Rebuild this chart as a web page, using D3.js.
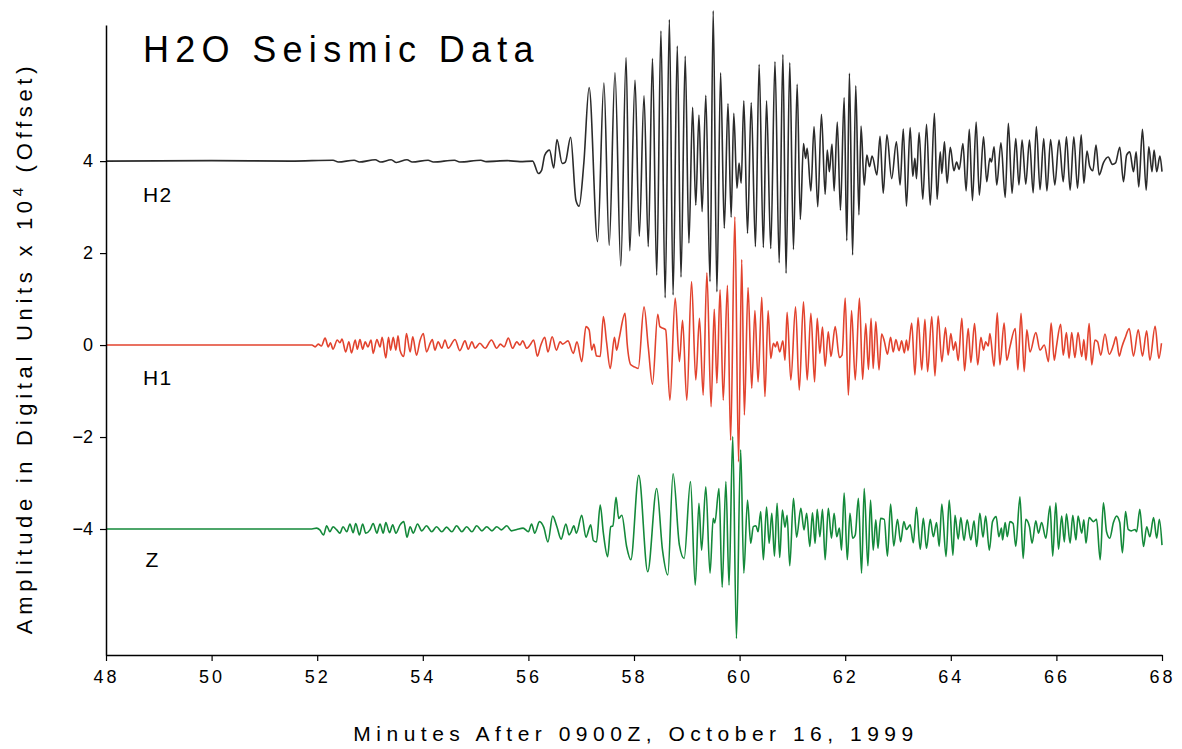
<!DOCTYPE html>
<html><head><meta charset="utf-8">
<script src="https://cdn.jsdelivr.net/npm/d3@7"></script>
<style>
html,body{margin:0;padding:0;background:#fff;}
text{font-family:"Liberation Sans",Arial,Helvetica,sans-serif;fill:#000;}
</style></head>
<body><svg id="chart" width="1182" height="749"></svg>
<script>
// ---- data (minutes, amplitude x10^4 relative to trace offset) ----
const traceNames = ["H2", "H1", "Z"];
const traceOffsets = [4, 0, -4];
const xTickValues = [48, 50, 52, 54, 56, 58, 60, 62, 64, 66, 68];
const yTickValues = [-4, -2, 0, 2, 4];
const titleText = "H2O Seismic Data";
const xLabelText = "Minutes After 0900Z, October 16, 1999";

const h2Trace = [
[48,0],[50,0.01],[51.5,0],[52.3,0.02],[52.4,-0.02],[52.7,0.02],[52.8,-0.02],[53.1,0.03],[53.2,-0.02],[53.4,0.03],[53.5,-0.03],
[53.7,0.03],[53.8,-0.02],[54.1,0.02],[54.2,-0.02],[54.6,0.02],[54.7,-0.02],[55.1,0.02],[55.2,-0.01],[55.6,0.01],[55.84,-0.01],[56.08,0],
[56.19,-0.27],[56.25,-0.20],[56.31,0.13],[56.40,0.24],[56.48,-0.15],[56.54,0.47],[56.64,-0.05],[56.70,-0.02],[56.80,0.52],[56.90,-0.85],
[56.96,-0.98],[57.05,-0.04],[57.15,1.60],[57.31,-1.75],[57.43,1.70],[57.53,-1.83],[57.64,1.92],[57.75,-2.28],[57.85,2.25],[57.92,-1.95],
[58.02,1.76],[58.10,-1.63],[58.19,1.42],[58.27,-1.86],[58.35,2.23],[58.43,-2.48],[58.51,2.83],[58.59,-2.97],[58.67,3.08],[58.74,-2.91],
[58.82,2.50],[58.89,-2.52],[58.97,2.28],[59.04,-1.78],[59.11,1.17],[59.17,-0.96],[59.23,1.00],[59.29,-1.10],[59.36,1.43],[59.44,-2.62],
[59.50,3.27],[59.57,-2.84],[59.64,1.92],[59.71,-1.46],[59.78,1.25],[59.84,-1.22],[59.89,1.04],[59.95,-0.59],[59.99,-0.04],[60.03,-0.48],
[60.08,1.31],[60.15,-1.57],[60.22,1.27],[60.30,-1.86],[60.37,2.10],[60.45,-1.88],[60.51,1.31],[60.59,-1.90],[60.67,2.16],[60.75,-2.21],
[60.82,2.32],[60.88,-2.44],[60.95,2.14],[61.02,-1.92],[61.09,1.67],[61.15,-1.27],[61.21,0.38],[61.25,0.06],[61.28,0.28],[61.35,-0.65],
[61.41,0.75],[61.48,-0.99],[61.55,1.02],[61.62,-0.72],[61.66,0.24],[61.70,-0.23],[61.75,0.37],[61.79,-0.65],[61.85,0.85],[61.91,-1.07],
[61.98,1.38],[62.03,-1.73],[62.08,1.91],[62.14,-2.04],[62.20,1.64],[62.26,-1.17],[62.30,0.76],[62.36,-0.52],[62.41,0.13],[62.46,-0.12],
[62.51,0.11],[62.60,-0.30],[62.66,0.54],[62.72,-0.70],[62.79,0.57],[62.88,-0.38],[62.97,0.42],[63.04,-0.52],[63.10,0.70],[63.16,-0.98],
[63.23,0.73],[63.28,-0.33],[63.32,0.06],[63.35,-0.38],[63.40,0.62],[63.47,-0.83],[63.54,0.80],[63.61,-0.96],[63.69,1.04],[63.74,-0.83],
[63.80,0.20],[63.83,-0.27],[63.88,0.42],[63.93,-0.48],[63.99,0.30],[64.06,-0.21],[64.11,-0.02],[64.16,-0.18],[64.23,0.38],[64.29,-0.65],
[64.35,0.69],[64.41,-0.86],[64.48,0.85],[64.54,-0.74],[64.62,0.53],[64.68,-0.45],[64.74,0.06],[64.77,-0.02],[64.82,0.31],[64.87,-0.52],
[64.95,0.40],[65.03,-0.79],[65.09,0.82],[65.16,-0.70],[65.23,0.49],[65.29,-0.52],[65.35,0.46],[65.42,-0.50],[65.49,0.46],[65.56,-0.69],
[65.62,0.75],[65.69,-0.62],[65.76,0.49],[65.82,-0.65],[65.89,0.47],[65.97,-0.52],[66.05,0.46],[66.13,-0.45],[66.19,0.53],[66.26,-0.63],
[66.33,0.53],[66.40,-0.59],[66.47,0.57],[66.52,-0.48],[66.58,0.22],[66.63,-0.11],[66.69,-0.21],[66.75,0.35],[66.81,-0.30],[66.89,-0.04],
[66.98,0.09],[67.06,-0.07],[67.12,-0.04],[67.20,0.30],[67.27,-0.45],[67.33,0.13],[67.39,0.20],[67.46,-0.23],[67.51,0.20],[67.56,-0.56],
[67.63,0.69],[67.70,-0.63],[67.75,0.31],[67.81,-0.23],[67.85,0.24],[67.90,-0.23],[67.96,0.11],[68.00,-0.23]
];

const h1Trace = [
[48,0],[51.9,0],[51.96,-0.04],[52.02,0.02],[52.08,-0.02],[52.15,0.15],[52.21,-0.04],[52.25,0.05],[52.30,-0.09],[52.38,0.11],[52.43,0.05],
[52.47,0.13],[52.54,-0.15],[52.60,0.07],[52.65,-0.17],[52.72,0.11],[52.76,-0.09],[52.81,0.12],[52.86,-0.09],[52.91,0.07],[52.96,-0.04],
[53.02,0.11],[53.06,-0.18],[53.13,0.12],[53.19,-0.04],[53.23,0.17],[53.30,-0.28],[53.35,0.17],[53.39,-0.11],[53.44,0.17],[53.49,-0.11],
[53.53,0.20],[53.57,-0.12],[53.64,-0.25],[53.69,0.25],[53.76,-0.15],[53.81,0.18],[53.88,-0.22],[53.95,0.11],[54.01,0.25],[54.07,-0.15],
[54.14,0.04],[54.18,0.12],[54.23,-0.11],[54.29,0.07],[54.36,-0.07],[54.42,0.11],[54.48,-0.07],[54.61,0.12],[54.70,-0.12],[54.80,0.09],
[54.86,-0.09],[54.93,0.07],[54.99,-0.07],[55.08,0.04],[55.18,-0.07],[55.30,0.11],[55.40,-0.07],[55.47,0.02],[55.54,-0.04],[55.62,0.15],
[55.70,-0.07],[55.78,0.07],[55.84,0],[55.89,0.09],[55.97,-0.07],[56.03,0],[56.10,0.11],[56.17,-0.24],[56.23,-0.02],[56.31,0.17],
[56.37,-0.15],[56.45,0.18],[56.53,-0.11],[56.60,0.07],[56.65,0.02],[56.75,0.09],[56.85,-0.18],[56.92,0.07],[57.01,-0.36],[57.09,0.40],
[57.15,0.33],[57.20,-0.11],[57.24,0.02],[57.29,-0.24],[57.36,-0.25],[57.42,0.62],[57.48,0.07],[57.55,-0.51],[57.63,0.17],[57.67,-0.11],
[57.72,0.15],[57.83,0.69],[57.87,0.04],[57.94,-0.43],[58.02,-0.48],[58.08,-0.51],[58.19,0.83],[58.27,-0.04],[58.35,-0.85],[58.45,0.67],
[58.49,0.40],[58.56,0.36],[58.60,0.33],[58.68,-1.20],[58.78,1.02],[58.86,-0.36],[58.92,0.54],[59.00,-1.20],[59.09,1.38],[59.17,-0.76],
[59.24,0.58],[59.31,-1.09],[59.38,1.57],[59.46,-1.34],[59.52,0.78],[59.57,-0.83],[59.63,1.20],[59.69,-1.20],[59.77,1.30],[59.83,-2.07],
[59.91,2.79],[59.98,-2.54],[60.04,1.86],[60.09,-1.52],[60.16,1.25],[60.23,-0.94],[60.29,0.75],[60.35,-0.80],[60.42,1.04],[60.48,-1.12],
[60.54,0.75],[60.59,-0.29],[60.64,0.04],[60.68,-0.04],[60.71,0.07],[60.76,-0.15],[60.82,0.09],[60.86,-0.33],[60.90,0.71],[60.97,-0.76],
[61.06,0.83],[61.13,-0.98],[61.21,0.94],[61.28,-0.76],[61.35,0.69],[61.42,-0.80],[61.47,0.58],[61.52,-0.18],[61.57,0.39],[61.62,-0.46],
[61.68,0.29],[61.73,-0.25],[61.81,0.40],[61.89,-0.27],[61.94,-0.22],[62.00,1.02],[62.06,-1.09],[62.12,0.75],[62.19,-0.76],[62.27,1.02],
[62.33,-0.75],[62.39,0.47],[62.44,-0.53],[62.49,0.58],[62.53,-0.51],[62.58,0.51],[62.64,-0.54],[62.69,0.24],[62.74,0.09],[62.80,-0.20],
[62.86,0.17],[62.91,-0.15],[62.96,0.12],[63.02,-0.12],[63.07,0.09],[63.12,-0.17],[63.16,0.11],[63.19,-0.12],[63.26,0.48],[63.32,-0.65],
[63.38,0.60],[63.45,-0.54],[63.51,0.56],[63.56,-0.58],[63.64,0.62],[63.70,-0.67],[63.76,0.63],[63.83,-0.36],[63.90,0.38],[63.95,-0.22],
[64.00,0.25],[64.05,-0.11],[64.09,0.07],[64.14,-0.34],[64.21,0.58],[64.26,-0.56],[64.33,0.36],[64.38,-0.38],[64.45,0.47],[64.51,-0.43],
[64.57,0.17],[64.62,-0.11],[64.66,0.07],[64.71,-0.02],[64.74,0.25],[64.82,-0.46],[64.88,0.70],[64.93,-0.43],[65.01,0.48],[65.06,-0.33],
[65.12,-0.04],[65.22,0.36],[65.27,-0.54],[65.33,0.69],[65.39,-0.58],[65.44,0.33],[65.50,-0.15],[65.61,0.27],[65.69,-0.11],[65.77,0],
[65.85,-0.36],[65.90,0.48],[65.96,-0.33],[66.00,-0.04],[66.08,0.45],[66.13,-0.22],[66.19,0.27],[66.24,-0.29],[66.29,0.27],[66.35,-0.27],
[66.41,0.27],[66.48,-0.25],[66.52,0.12],[66.56,-0.33],[66.62,0.47],[66.67,-0.43],[66.73,0.11],[66.78,0.07],[66.84,-0.22],[66.92,0.24],
[67.00,-0.20],[67.08,0],[67.13,0.18],[67.19,-0.24],[67.24,-0.04],[67.30,0.15],[67.38,0.36],[67.46,-0.24],[67.55,0.33],[67.63,-0.24],
[67.71,0.31],[67.77,-0.33],[67.87,0.41],[67.94,-0.29],[67.99,0.04]
];

const zTrace = [
[48,0],[51.9,0],[51.99,0.02],[52.05,-0.02],[52.12,-0.13],[52.18,0.07],[52.24,-0.06],[52.30,0.05],[52.37,-0.02],[52.43,-0.09],[52.49,0.05],
[52.56,-0.06],[52.62,0.11],[52.68,-0.08],[52.73,0.12],[52.80,-0.13],[52.86,0.11],[52.92,-0.09],[53.00,-0.02],[53.06,0.12],[53.13,-0.09],
[53.19,0.11],[53.25,-0.09],[53.30,0.14],[53.37,-0.08],[53.43,0.09],[53.49,-0.09],[53.57,0.09],[53.64,0.16],[53.70,-0.18],[53.76,0.05],
[53.82,-0.09],[53.90,0.11],[53.98,-0.04],[54.07,0.07],[54.17,-0.06],[54.26,0.05],[54.36,-0.06],[54.45,0.04],[54.55,-0.06],[54.64,0.07],
[54.74,-0.06],[54.83,0.05],[54.93,-0.06],[55.02,0.07],[55.12,-0.04],[55.21,0.05],[55.31,-0.04],[55.40,0.05],[55.49,-0.02],[55.59,0.07],
[55.68,-0.04],[55.78,-0.01],[55.90,0.02],[56.00,-0.06],[56.06,0.11],[56.12,-0.09],[56.21,0.16],[56.29,0.04],[56.37,-0.28],[56.46,0.28],
[56.54,0.05],[56.62,-0.22],[56.71,0.11],[56.77,-0.13],[56.81,-0.06],[56.86,0.07],[56.91,-0.09],[57.01,0.30],[57.09,-0.18],[57.18,0.09],
[57.23,-0.25],[57.29,-0.28],[57.36,0.52],[57.42,-0.09],[57.50,-0.60],[57.56,0.05],[57.60,0.07],[57.66,0.69],[57.71,0.23],[57.77,0.30],
[57.86,-0.38],[57.94,-0.67],[58.09,1.17],[58.26,-0.93],[58.43,0.88],[58.54,-0.46],[58.64,-1.00],[58.74,1.20],[58.86,-0.35],[58.95,-0.64],
[59.07,1.03],[59.16,-1.22],[59.23,0.56],[59.28,-0.46],[59.36,0.92],[59.44,-0.96],[59.50,0.23],[59.53,0.13],[59.61,0.88],[59.67,-1.27],
[59.74,1.03],[59.80,-1.22],[59.87,2.01],[59.94,-2.38],[60.02,1.72],[60.08,-0.96],[60.15,0.63],[60.21,-0.31],[60.26,0.05],[60.31,0.07],
[60.35,-0.06],[60.40,0.38],[60.45,-0.67],[60.51,0.48],[60.56,-0.31],[60.61,0.34],[60.66,-0.59],[60.71,0.56],[60.76,-0.62],[60.81,0.41],
[60.86,0.04],[60.90,0.30],[60.95,-0.80],[61.02,0.67],[61.08,-0.18],[61.16,0.45],[61.22,-0.02],[61.27,0.34],[61.33,-0.38],[61.38,0.35],
[61.43,-0.31],[61.47,0.43],[61.52,-0.17],[61.57,0.43],[61.62,-0.67],[61.68,0.45],[61.74,-0.20],[61.79,0.34],[61.84,-0.17],[61.89,0.02],
[61.93,-0.46],[61.98,0.78],[62.04,-0.67],[62.09,0.34],[62.14,-0.20],[62.19,-0.13],[62.25,0.67],[62.31,-0.96],[62.36,0.88],[62.43,-0.80],
[62.48,0.63],[62.53,-0.46],[62.58,0.20],[62.62,-0.42],[62.67,0.23],[62.74,0.21],[62.80,-0.59],[62.86,0.54],[62.92,-0.37],[62.99,0.21],
[63.05,-0.28],[63.11,0.16],[63.16,-0.01],[63.23,0.09],[63.29,-0.30],[63.35,0.47],[63.42,-0.44],[63.48,0.23],[63.54,-0.42],[63.61,0.21],
[63.67,-0.17],[63.73,0.14],[63.78,-0.38],[63.83,0.54],[63.91,-0.60],[63.97,0.63],[64.04,-0.57],[64.08,0.30],[64.14,-0.22],[64.19,0.25],
[64.25,-0.25],[64.31,0.20],[64.38,-0.24],[64.44,0.18],[64.49,-0.38],[64.55,0.34],[64.61,-0.18],[64.66,0.28],[64.73,-0.46],[64.79,0.16],
[64.86,0.27],[64.91,-0.17],[64.96,0.02],[64.98,-0.24],[65.03,0.14],[65.07,-0.17],[65.12,0.16],[65.18,0.12],[65.23,-0.38],[65.31,0.70],
[65.37,-0.64],[65.42,0.21],[65.49,0.05],[65.54,-0.31],[65.61,0.18],[65.66,-0.09],[65.72,0.14],[65.80,-0.20],[65.88,0.50],[65.93,-0.59],
[65.99,0.57],[66.04,-0.44],[66.10,0.28],[66.15,-0.28],[66.19,0.33],[66.26,-0.31],[66.31,0.30],[66.37,-0.24],[66.41,0.28],[66.48,-0.09],
[66.52,0.20],[66.56,-0.31],[66.62,0.25],[66.70,0.16],[66.76,0.21],[66.83,-0.67],[66.89,0.57],[66.95,-0.06],[67.01,-0.20],[67.08,0.14],
[67.14,0.28],[67.20,0.14],[67.25,-0.52],[67.31,0.38],[67.36,-0.01],[67.42,-0.04],[67.49,-0.01],[67.52,-0.06],[67.58,0.43],[67.65,-0.38],
[67.71,0.05],[67.77,-0.17],[67.84,0.25],[67.90,-0.20],[67.95,0.21],[68.00,-0.35]
];

const traces = [h2Trace, h1Trace, zTrace];
const traceColors = ["#2b2b2b", "#e2432e", "#14893a"];
const traceLabelPos = [[48.7, 3.11], [48.7, -0.87], [48.75, -4.83]];

// ---- drawing ----
const svg = d3.select("#chart");
const x = d3.scaleLinear().domain([48, 68]).range([106, 1162]);
const y = d3.scaleLinear().domain([-6.74, 6.96]).range([655, 25]);

const line = d3.line().curve(d3.curveMonotoneX);

traces.forEach((tr, i) => {
  line.x(d => x(d[0])).y(d => y(d[1] + traceOffsets[i]));
  svg.append("path")
    .attr("d", line(tr))
    .attr("fill", "none")
    .attr("stroke", traceColors[i])
    .attr("stroke-width", 1.6)
    .attr("stroke-linejoin", "round");
  svg.append("text")
    .attr("x", x(traceLabelPos[i][0]))
    .attr("y", y(traceLabelPos[i][1]))
    .attr("font-size", 21)
    .style("letter-spacing", "1.5px")
    .text(traceNames[i]);
});

// axes
const yAxis = d3.axisLeft(y).tickValues(yTickValues).tickSize(6).tickSizeOuter(0).tickPadding(7).tickFormat(d3.format("d"));
const gy = svg.append("g").attr("transform", "translate(106,0)").call(yAxis);
gy.select(".domain").attr("stroke-width", 1.5);
gy.selectAll(".tick line").attr("stroke-width", 1.2);
gy.selectAll(".tick text").attr("font-size", 18).attr("font-family", "Liberation Sans, Arial, sans-serif").attr("fill", "#000");

const xAxis = d3.axisBottom(x).tickValues(xTickValues).tickSize(6).tickSizeOuter(0).tickPadding(9).tickFormat(d3.format("d"));
const gx = svg.append("g").attr("transform", "translate(0,655)").call(xAxis);
gx.select(".domain").attr("stroke-width", 1.5);
gx.selectAll(".tick line").attr("stroke-width", 1.2);
gx.selectAll(".tick text").attr("font-size", 18).attr("font-family", "Liberation Sans, Arial, sans-serif").attr("fill", "#000").style("letter-spacing", "3px");

// titles
svg.append("text").attr("x", 143).attr("y", 62).attr("font-size", 36).style("letter-spacing", "6.3px").text(titleText);

svg.append("text").attr("x", 636).attr("y", 741).attr("text-anchor", "middle")
  .attr("font-size", 21).style("letter-spacing", "5.5px").text(xLabelText);

const yl = svg.append("text").attr("transform", "translate(32,348) rotate(-90)").attr("text-anchor", "middle")
  .attr("font-size", 22).style("letter-spacing", "4.7px");
yl.append("tspan").text("Amplitude in Digital Units x 10");
yl.append("tspan").attr("dy", -9).attr("font-size", 15).text("4");
yl.append("tspan").attr("dy", 9).text(" (Offset)");
</script></body></html>
